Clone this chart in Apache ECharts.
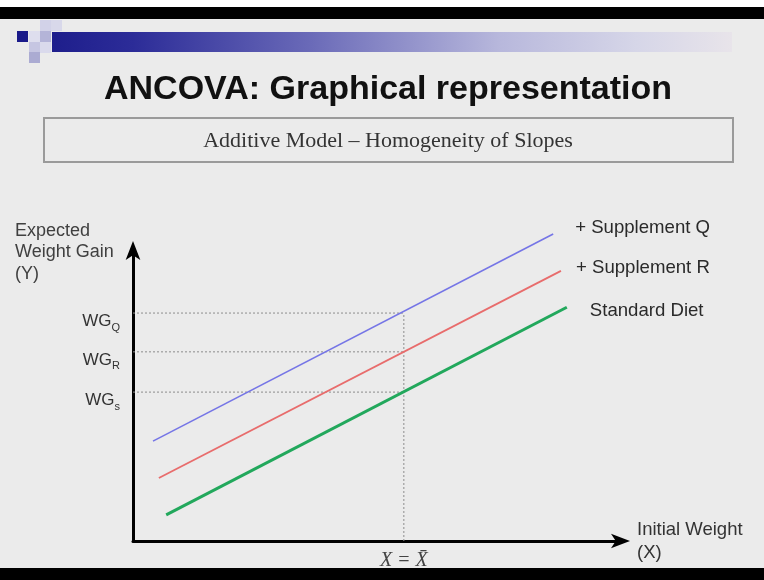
<!DOCTYPE html>
<html><head><meta charset="utf-8">
<script src="https://cdn.jsdelivr.net/npm/echarts@6/dist/echarts.min.js"></script>
<style>html,body{margin:0;padding:0;background:#ebebeb}#c{width:764px;height:580px}</style>
</head><body><div id="c"></div>
<script>
// ---- data (arbitrary units) ----
const seriesNames = ['+ Supplement Q', '+ Supplement R', 'Standard Diet'];
const supplementQ = [[4.1, 20.6], [86.1, 63.3]];
const supplementR = [[5.3, 13.0], [87.7, 55.7]];
const standardDiet = [[6.8, 5.4], [88.9, 48.2]];
const meanX = 55.5;
const wgLevels = [30.7, 39.0, 47.0];
const wgLabels = ['{m|WG}{s|s}', '{m|WG}{s|R}', '{m|WG}{s|Q}'];
const xMeanLabel = 'X = X\u0304';
const titleText = 'ANCOVA: Graphical representation';
const subtitleText = 'Additive Model \u2013 Homogeneity of Slopes';
const yName = 'Expected\nWeight Gain\n(Y)';
const xName = 'Initial Weight\n(X)';

const SANS = '"Liberation Sans", Arial, sans-serif';
const SERIF = '"Liberation Serif", "Times New Roman", serif';

const chart = echarts.init(document.getElementById('c'), null, {renderer: 'canvas'});

const lineColors = ['#7575e6', '#e86c6c', '#22a85c'];
const lineWidths = [1.6, 1.8, 3];
const labelOffsets = [[22, -6], [15, -3], [23, 4]];
const mainData = [supplementQ, supplementR, standardDiet];

const guideSeries = wgLevels.map(v => ({
  type: 'line', data: [[0, v], [meanX, v]], symbol: 'none', silent: true, clip: false,
  lineStyle: {color: '#8c8c8c', width: 1, type: [2, 2]}, z: 1
}));
guideSeries.push({
  type: 'line', data: [[meanX, 0], [meanX, Math.max(...wgLevels)]], symbol: 'none', silent: true, clip: false,
  lineStyle: {color: '#8c8c8c', width: 1, type: [2, 2]}, z: 1
});

const mainSeries = mainData.map((d, i) => ({
  type: 'line', name: seriesNames[i], data: d, symbol: 'none', showSymbol: false, silent: true, clip: false,
  lineStyle: {color: lineColors[i], width: lineWidths[i]}, z: 3,
  endLabel: {
    show: true, formatter: seriesNames[i], distance: 0, offset: labelOffsets[i],
    color: '#2a2a2a', fontSize: 18.6, fontFamily: SANS
  }
}));

function sq(x, y, c) { return {type: 'rect', shape: {x: x, y: y, width: 11, height: 11}, style: {fill: c}, silent: true}; }

const option = {
  backgroundColor: '#ebebeb',
  animation: false,
  grid: {left: 133, top: 250, width: 488, height: 291, outerBoundsMode: 'none', containLabel: false},
  xAxis: {
    type: 'value', min: 0, max: 100,
    name: xName, nameLocation: 'end', nameGap: 16,
    nameTextStyle: {color: '#333', fontSize: 18.5, fontFamily: SANS, lineHeight: 23, align: 'left', verticalAlign: 'middle', padding: [6, 0, 0, 0]},
    axisLine: {show: true, lineStyle: {color: '#000', width: 3}, symbol: ['none', 'arrow'], symbolSize: [11, 19], symbolOffset: [0, 9]},
    axisTick: {show: false}, splitLine: {show: false},
    axisLabel: {
      customValues: [meanX], margin: 10, hideOverlap: false,
      formatter: () => xMeanLabel,
      color: '#444', fontSize: 20, fontFamily: SERIF, fontStyle: 'italic'
    }
  },
  yAxis: {
    type: 'value', min: 0, max: 60,
    axisLine: {show: true, lineStyle: {color: '#000', width: 3}, symbol: ['none', 'arrow'], symbolSize: [11, 19], symbolOffset: [0, 9]},
    axisTick: {show: false}, splitLine: {show: false},
    axisLabel: {
      customValues: wgLevels, margin: 13, hideOverlap: false, showMinLabel: true, showMaxLabel: true,
      formatter: (v) => {
        let idx = 0, best = 1e9;
        wgLevels.forEach((w, i) => { const d = Math.abs(w - v); if (d < best) { best = d; idx = i; } });
        return wgLabels[idx];
      },
      color: '#333', fontSize: 17, fontFamily: SANS, verticalAlign: 'top',
      rich: {
        m: {fontSize: 17, lineHeight: 17, verticalAlign: 'top', fontFamily: SANS, color: '#333'},
        s: {fontSize: 11, lineHeight: 11, verticalAlign: 'top', padding: [9, 0, 0, 0], fontFamily: SANS, color: '#333'}
      }
    }
  },
  graphic: [
    {type: 'rect', shape: {x: 0, y: 0, width: 764, height: 7}, style: {fill: '#ffffff'}, silent: true},
    {type: 'rect', shape: {x: 0, y: 7, width: 764, height: 12}, style: {fill: '#000000'}, silent: true},
    {type: 'rect', shape: {x: 0, y: 568, width: 764, height: 12}, style: {fill: '#000000'}, silent: true},
    {type: 'rect', shape: {x: 52, y: 32, width: 680, height: 20}, silent: true,
      style: {fill: {type: 'linear', x: 0, y: 0, x2: 1, y2: 0, colorStops: [
        {offset: 0, color: '#1e1e8c'}, {offset: 0.12, color: '#2c2c98'}, {offset: 0.38, color: '#6a6ab8'},
        {offset: 0.66, color: '#b8b8dc'}, {offset: 0.86, color: '#d6d6e8'}, {offset: 1, color: '#e8e4ea'}]}}},
    sq(17, 31, '#1a1a8a'), sq(29, 31, '#dedeee'), sq(40, 31, '#b4b4d8'),
    sq(40, 20, '#d2d2e8'), sq(51, 20, '#d8d8ea'),
    sq(29, 42, '#c6c6e2'), sq(40, 42, '#dadaec'), sq(29, 52, '#ababd2'),
    {type: 'text', silent: true, style: {x: 388, y: 90, text: titleText, textAlign: 'center', textVerticalAlign: 'middle',
      font: 'bold 34px ' + SANS, fill: '#111'}},
    {type: 'rect', silent: true, shape: {x: 44, y: 118, width: 689, height: 44}, style: {fill: 'none', stroke: '#9a9a9a', lineWidth: 2}},
    {type: 'text', silent: true, style: {x: 388, y: 141, text: subtitleText, textAlign: 'center', textVerticalAlign: 'middle',
      font: '22px ' + SERIF, fill: '#333'}},
    {type: 'text', silent: true, style: {x: 15, y: 220, text: yName, textAlign: 'left', textVerticalAlign: 'top',
      font: '18px ' + SANS, lineHeight: 21.5, fill: '#404040'}}
  ],
  series: guideSeries.concat(mainSeries)
};
chart.setOption(option);
</script>
</body></html>
